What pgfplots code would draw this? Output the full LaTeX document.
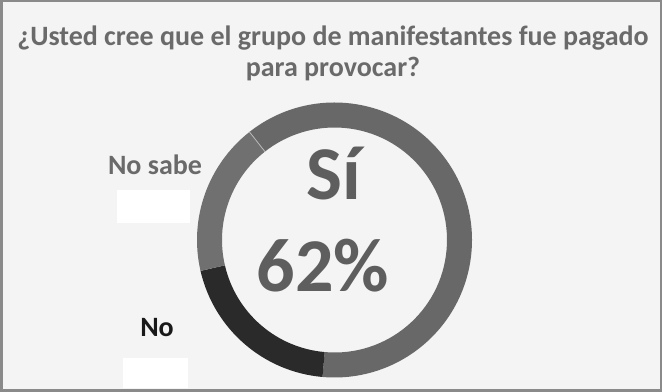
\documentclass[border=0pt]{standalone}
\usepackage{pgfplots}
\pgfplotsset{compat=1.18}
\usepackage{pgfplotstable}
\usepackage{fontspec}
\setmainfont{Carlito}
\definecolor{bg}{HTML}{F4F4F4}
\definecolor{frame}{HTML}{8A8A8A}
\definecolor{cSi}{HTML}{686868}
\definecolor{cNoSabe}{HTML}{707070}
\definecolor{cNo}{HTML}{2A2A2A}
\definecolor{txt}{HTML}{6A6A6A}
\definecolor{ctr}{HTML}{5E5E5E}
\pgfplotstableread{
label value
Si 62
No 20
NoSabe 18
}\datatable
\begin{document}
\begin{tikzpicture}
\pgfplotstablegetelem{0}{value}\of\datatable \let\vSi\pgfplotsretval
\pgfplotstablegetelem{1}{value}\of\datatable \let\vNo\pgfplotsretval
\pgfplotstablegetelem{2}{value}\of\datatable \let\vNS\pgfplotsretval
\pgfmathsetmacro{\aA}{128.2}
\pgfmathsetmacro{\aB}{\aA-3.6*\vSi}
\pgfmathsetmacro{\aC}{\aB-3.6*\vNo}
\pgfmathsetmacro{\aD}{\aC-3.6*\vNS}
\def\Ro{137.5bp}
\def\Ri{112.5bp}
\begin{axis}[
  width=662bp, height=392bp, scale only axis,
  xmin=0, xmax=662, ymin=0, ymax=392,
  hide axis, clip=false,
]
\fill[bg] (axis cs:0,0) rectangle (axis cs:662,392);
% donut segments
\fill[cSi] ([shift={(\aA:\Ro)}]axis cs:334.5,152) arc[start angle=\aA, end angle=\aB, radius=\Ro]
  -- ([shift={(\aB:\Ri)}]axis cs:334.5,152) arc[start angle=\aB, end angle=\aA, radius=\Ri] -- cycle;
\fill[cNo] ([shift={(\aB:\Ro)}]axis cs:334.5,152) arc[start angle=\aB, end angle=\aC, radius=\Ro]
  -- ([shift={(\aC:\Ri)}]axis cs:334.5,152) arc[start angle=\aC, end angle=\aB, radius=\Ri] -- cycle;
\fill[cNoSabe] ([shift={(\aC:\Ro)}]axis cs:334.5,152) arc[start angle=\aC, end angle=\aD, radius=\Ro]
  -- ([shift={(\aD:\Ri)}]axis cs:334.5,152) arc[start angle=\aD, end angle=\aC, radius=\Ri] -- cycle;
\draw[gray!55, line width=0.8bp] ([shift={(\aA:\Ri)}]axis cs:334.5,152) -- ([shift={(\aA:\Ro)}]axis cs:334.5,152);
% white boxes
\fill[white] (axis cs:117,169) rectangle (axis cs:190,202);
\fill[white] (axis cs:123,4) rectangle (axis cs:188,34);
% title
\node[anchor=base, font=\fontsize{28bp}{33bp}\selectfont\bfseries, text=txt] at (axis cs:333,346) {¿Usted cree que el grupo de manifestantes fue pagado};
\node[anchor=base, font=\fontsize{28bp}{33bp}\selectfont\bfseries, text=txt] at (axis cs:333,315) {para provocar?};
% labels
\node[anchor=base, font=\fontsize{28bp}{33bp}\selectfont\bfseries, text=txt] at (axis cs:155,217) {No sabe};
\node[anchor=base, font=\fontsize{28bp}{33bp}\selectfont\bfseries, text=black!90] at (axis cs:157,55) {No};
% center
\node[anchor=base, font=\fontsize{76bp}{84bp}\selectfont\bfseries, text=ctr] at (axis cs:334,192) {Sí};
\node[anchor=base, font=\fontsize{76bp}{84bp}\selectfont\bfseries, text=ctr] at (axis cs:323,100) {62\%};
% frame
\draw[frame, line width=2.5bp] (axis cs:1.25,1.25) rectangle (axis cs:660.75,390.75);
\end{axis}
\end{tikzpicture}
\end{document}
